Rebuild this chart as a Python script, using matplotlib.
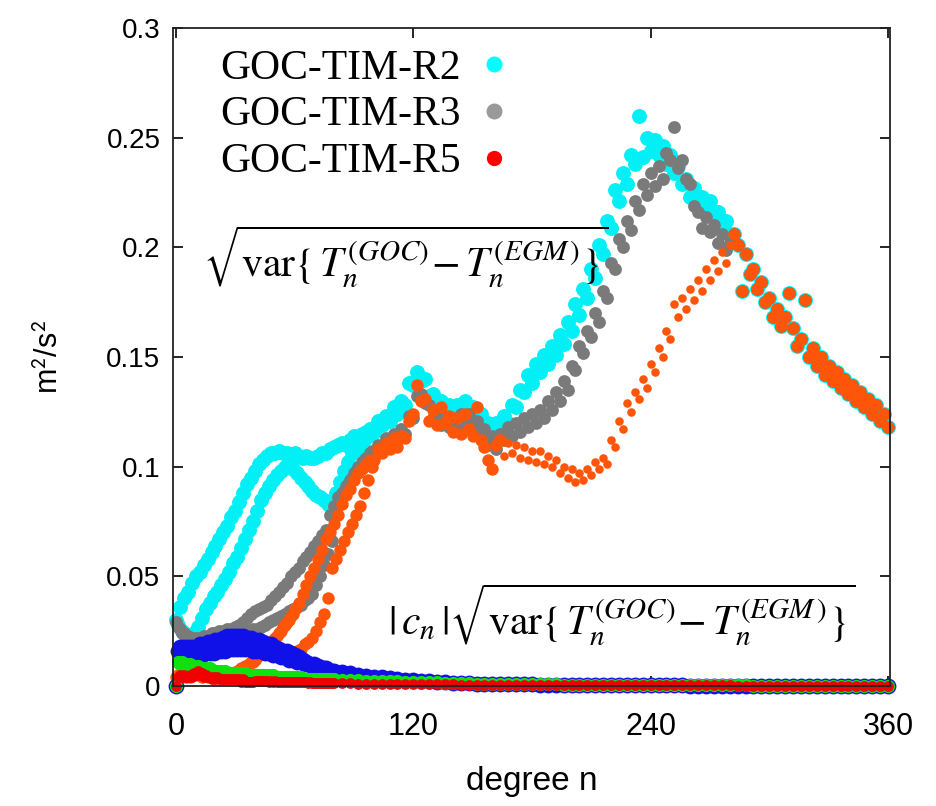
import matplotlib
matplotlib.use("Agg")
import matplotlib.pyplot as plt
from matplotlib.lines import Line2D

plt.rcParams['mathtext.fontset'] = 'stix'

# grados: 0..99 cada 1, 100..360 cada 2
deg = list(range(0, 100)) + list(range(100, 361, 2))

# tramo comun de los tres modelos (n >= 282)
tail = [0.206, 0.201, 0.180, 0.197, 0.188, 0.190, 0.181, 0.184, 0.175, 0.177,
        0.168, 0.172, 0.164, 0.168, 0.179, 0.163, 0.155, 0.158, 0.176, 0.150,
        0.154, 0.146, 0.150, 0.142, 0.146, 0.139, 0.143, 0.136, 0.140, 0.133,
        0.137, 0.130, 0.134, 0.127, 0.131, 0.124, 0.128, 0.121, 0.124, 0.118]

r2 = [0.030, 0.028, 0.036, 0.025, 0.040, 0.023, 0.043, 0.022, 0.047, 0.024,
      0.050, 0.027, 0.052, 0.031, 0.055, 0.035, 0.058, 0.038, 0.061, 0.041,
      0.064, 0.043, 0.067, 0.046, 0.070, 0.049, 0.073, 0.052, 0.077, 0.056,
      0.080, 0.059, 0.084, 0.063, 0.088, 0.067, 0.092, 0.071, 0.095, 0.075,
      0.098, 0.080, 0.101, 0.085, 0.103, 0.088, 0.105, 0.091, 0.106, 0.094,
      0.106, 0.096, 0.107, 0.098, 0.106, 0.100, 0.106, 0.100, 0.105, 0.099,
      0.106, 0.097, 0.105, 0.095, 0.104, 0.093, 0.105, 0.091, 0.104, 0.089,
      0.104, 0.087, 0.105, 0.086, 0.106, 0.085, 0.106, 0.083, 0.108, 0.084,
      0.109, 0.088, 0.110, 0.093, 0.111, 0.098, 0.110, 0.102, 0.112, 0.106,
      0.114, 0.108, 0.113, 0.110, 0.115, 0.112, 0.116, 0.114, 0.117, 0.116,
      # 100..280
      0.116, 0.121, 0.119, 0.123, 0.121, 0.127, 0.124, 0.130, 0.128, 0.138,
      0.137, 0.143, 0.139, 0.140, 0.132, 0.133, 0.126, 0.130, 0.125, 0.128,
      0.124, 0.128, 0.123, 0.130, 0.124, 0.127, 0.121, 0.124, 0.118, 0.120,
      0.115, 0.120, 0.116, 0.123, 0.120, 0.128, 0.127, 0.135, 0.134, 0.142,
      0.138, 0.147, 0.143, 0.151, 0.147, 0.155, 0.151, 0.160, 0.156, 0.166,
      0.162, 0.174, 0.169, 0.181, 0.177, 0.190, 0.186, 0.201, 0.197, 0.212,
      0.209, 0.226, 0.221, 0.234, 0.229, 0.242, 0.238, 0.260, 0.241, 0.250,
      0.244, 0.249, 0.242, 0.246, 0.238, 0.242, 0.234, 0.237, 0.229, 0.231,
      0.223, 0.227, 0.219, 0.223, 0.216, 0.221, 0.213, 0.216, 0.209, 0.212,
      0.206] + tail

r3 = [0.029, 0.027, 0.026, 0.024, 0.024, 0.022, 0.023, 0.021, 0.022, 0.021,
      0.022, 0.021, 0.022, 0.022, 0.023, 0.022, 0.023, 0.022, 0.024, 0.023,
      0.024, 0.023, 0.025, 0.023, 0.025, 0.024, 0.026, 0.024, 0.026, 0.024,
      0.027, 0.025, 0.028, 0.025, 0.029, 0.025, 0.031, 0.025, 0.033, 0.026,
      0.034, 0.026, 0.035, 0.027, 0.036, 0.028, 0.037, 0.029, 0.039, 0.030,
      0.041, 0.031, 0.043, 0.032, 0.045, 0.033, 0.047, 0.034, 0.050, 0.035,
      0.052, 0.036, 0.054, 0.037, 0.057, 0.039, 0.059, 0.040, 0.061, 0.042,
      0.064, 0.046, 0.066, 0.050, 0.069, 0.055, 0.071, 0.060, 0.078, 0.066,
      0.082, 0.080, 0.086, 0.085, 0.088, 0.089, 0.091, 0.092, 0.094, 0.095,
      0.097, 0.098, 0.100, 0.100, 0.102, 0.103, 0.104, 0.105, 0.106, 0.107,
      # 100..280
      0.106, 0.110, 0.108, 0.113, 0.110, 0.115, 0.112, 0.117, 0.115, 0.123,
      0.122, 0.132, 0.133, 0.129, 0.128, 0.122, 0.125, 0.119, 0.123, 0.118,
      0.122, 0.118, 0.124, 0.120, 0.124, 0.118, 0.121, 0.114, 0.117, 0.110,
      0.114, 0.108, 0.115, 0.112, 0.118, 0.114, 0.120, 0.116, 0.122, 0.118,
      0.124, 0.120, 0.126, 0.122, 0.130, 0.126, 0.134, 0.130, 0.139, 0.135,
      0.146, 0.144, 0.155, 0.152, 0.162, 0.159, 0.170, 0.166, 0.180, 0.177,
      0.193, 0.190, 0.204, 0.200, 0.212, 0.208, 0.221, 0.217, 0.229, 0.224,
      0.234, 0.228, 0.237, 0.231, 0.243, 0.240, 0.255, 0.236, 0.240, 0.231,
      0.229, 0.219, 0.216, 0.209, 0.214, 0.207, 0.210, 0.202, 0.206, 0.199,
      0.202] + tail

r5 = [0.004, 0.005, 0.004, 0.006, 0.005, 0.004, 0.005, 0.004, 0.005, 0.006,
      0.006, 0.005, 0.005, 0.004, 0.005, 0.005, 0.004, 0.005, 0.005, 0.004,
      0.005, 0.005, 0.004, 0.005, 0.005, 0.005, 0.005, 0.006, 0.006, 0.006,
      0.006, 0.007, 0.007, 0.008, 0.008, 0.009, 0.009, 0.010, 0.011, 0.011,
      0.012, 0.013, 0.014, 0.015, 0.016, 0.017, 0.018, 0.019, 0.020, 0.021,
      0.022, 0.023, 0.024, 0.025, 0.027, 0.028, 0.029, 0.030, 0.032, 0.033,
      0.035, 0.016, 0.038, 0.017, 0.042, 0.019, 0.046, 0.020, 0.050, 0.022,
      0.054, 0.025, 0.058, 0.029, 0.062, 0.033, 0.067, 0.040, 0.070, 0.054,
      0.074, 0.058, 0.078, 0.062, 0.083, 0.066, 0.087, 0.070, 0.090, 0.074,
      0.094, 0.078, 0.097, 0.082, 0.099, 0.088, 0.101, 0.094, 0.103, 0.100,
      # 100..280
      0.103, 0.108, 0.106, 0.111, 0.108, 0.113, 0.109, 0.114, 0.113, 0.121,
      0.124, 0.137, 0.130, 0.131, 0.121, 0.126, 0.119, 0.127, 0.120, 0.123,
      0.116, 0.122, 0.115, 0.124, 0.117, 0.114, 0.127, 0.112, 0.109, 0.103,
      0.099, 0.110, 0.112, 0.105, 0.111, 0.106, 0.110, 0.104, 0.109, 0.103,
      0.107, 0.102, 0.107, 0.101, 0.105, 0.100, 0.103, 0.097, 0.100, 0.095,
      0.099, 0.093, 0.097, 0.094, 0.099, 0.096, 0.102, 0.099, 0.104, 0.101,
      0.112, 0.109, 0.121, 0.117, 0.129, 0.125, 0.134, 0.131, 0.140, 0.136,
      0.147, 0.143, 0.154, 0.150, 0.162, 0.158, 0.174, 0.168, 0.177, 0.172,
      0.181, 0.176, 0.185, 0.180, 0.190, 0.185, 0.194, 0.189, 0.198, 0.193,
      0.201] + tail

# |c_n| * sqrt(var): grados 0..80 cada 1, 84..360 cada 4
deg_c = list(range(0, 81)) + list(range(84, 361, 4))

c2 = [0.000, 0.016, 0.018, 0.015, 0.018, 0.015, 0.018, 0.014, 0.018, 0.014,
      0.018, 0.014, 0.019, 0.014, 0.019, 0.015, 0.020, 0.015, 0.020, 0.015,
      0.021, 0.016, 0.021, 0.016, 0.022, 0.016, 0.023, 0.017, 0.023, 0.017,
      0.023, 0.017, 0.023, 0.017, 0.023, 0.017, 0.022, 0.017, 0.022, 0.016,
      0.021, 0.016, 0.021, 0.016, 0.020, 0.015, 0.019, 0.015, 0.019, 0.014,
      0.018, 0.014, 0.017, 0.013, 0.016, 0.013, 0.016, 0.012, 0.015, 0.012,
      0.014, 0.011, 0.013, 0.011, 0.012, 0.010, 0.011, 0.010, 0.010, 0.009,
      0.010, 0.009, 0.009, 0.008, 0.008, 0.008, 0.008, 0.007, 0.007, 0.007,
      0.007,
      0.0062, 0.0057, 0.0052, 0.0047, 0.0043, 0.0039, 0.0035, 0.0032, 0.0029, 0.0026,
      0.0023, 0.0021, 0.0019, 0.0017, 0.0015, 0.0013, 0.0012, 0.0011, 0.0010, 0.0009,
      0.0008, 0.0008, 0.0007, 0.0007, 0.0007, 0.0006, 0.0006, 0.0006, 0.0005, 0.0005,
      0.0005, 0.0005, 0.0004, 0.0004, 0.0004, 0.0004, 0.0004, 0.0003, 0.0003, 0.0003,
      0.0003, 0.0003, 0.0003, 0.0003, 0.0002, 0.0002, 0.0002, 0.0002, 0.0002, 0.0002,
      0.0002, 0.0002, 0.0002, 0.0001, 0.0001, 0.0001, 0.0001, 0.0001, 0.0001, 0.0001,
      0.0001, 0.0001, 0.0001, 0.0001, 0.0001, 0.0001, 0.0001, 0.0001, 0.0001, 0.0001]

c3 = [0.000, 0.011, 0.010, 0.011, 0.009, 0.010, 0.009, 0.010, 0.008, 0.009,
      0.008, 0.009, 0.008, 0.008, 0.007, 0.008, 0.007, 0.008, 0.007, 0.007,
      0.007, 0.007, 0.006, 0.007, 0.006, 0.007, 0.006, 0.006, 0.006, 0.006,
      0.006, 0.006, 0.005, 0.006, 0.005, 0.006, 0.005, 0.005, 0.005, 0.005,
      0.005, 0.005, 0.005, 0.005, 0.005, 0.005, 0.004, 0.005, 0.004, 0.005,
      0.004, 0.004, 0.004, 0.004, 0.004, 0.004, 0.004, 0.004, 0.004, 0.004,
      0.004, 0.004, 0.003, 0.004, 0.003, 0.003, 0.003, 0.003, 0.003, 0.003,
      0.003, 0.003, 0.003, 0.003, 0.003, 0.003, 0.003, 0.003, 0.003, 0.003,
      0.003,
      0.0028, 0.0027, 0.0026, 0.0025, 0.0024, 0.0023, 0.0022, 0.0021, 0.0020, 0.0019,
      0.0018, 0.0017, 0.0016, 0.0015, 0.0014, 0.0013, 0.0012, 0.0011, 0.0010, 0.0010,
      0.0009, 0.0009, 0.0008, 0.0008, 0.0008, 0.0007, 0.0007, 0.0007, 0.0006, 0.0006,
      0.0006, 0.0006, 0.0005, 0.0005, 0.0005, 0.0005, 0.0005, 0.0004, 0.0004, 0.0004,
      0.0004, 0.0004, 0.0004, 0.0003, 0.0003, 0.0003, 0.0003, 0.0003, 0.0003, 0.0003,
      0.0003, 0.0003, 0.0002, 0.0002, 0.0002, 0.0002, 0.0002, 0.0002, 0.0002, 0.0002,
      0.0002, 0.0002, 0.0002, 0.0002, 0.0002, 0.0002, 0.0002, 0.0002, 0.0002, 0.0002]

c5 = [0.000, 0.004, 0.005, 0.004, 0.005, 0.004, 0.004, 0.005, 0.004, 0.006,
      0.005, 0.007, 0.005, 0.006, 0.004, 0.005, 0.004, 0.004, 0.003, 0.004,
      0.003, 0.004, 0.003, 0.003, 0.003, 0.003, 0.003, 0.003, 0.003, 0.003,
      0.003, 0.003, 0.003, 0.002, 0.003, 0.002, 0.002, 0.002, 0.002, 0.002,
      0.0025, 0.0022, 0.0024, 0.0021, 0.0023, 0.0021, 0.0022, 0.0020, 0.0021, 0.0020,
      0.0021, 0.0019, 0.0020, 0.0019, 0.0019, 0.0018, 0.0019, 0.0018, 0.0018, 0.0017,
      0.0018, 0.0017, 0.0017, 0.0016, 0.0017, 0.0016, 0.0016, 0.0015, 0.0016, 0.0015,
      0.0015, 0.0014, 0.0015, 0.0014, 0.0014, 0.0013, 0.0014, 0.0013, 0.0013, 0.0012,
      0.0013,
      0.0012, 0.0012, 0.0011, 0.0011, 0.0010, 0.0010, 0.0009, 0.0009, 0.0009, 0.0008,
      0.0008, 0.0008, 0.0007, 0.0007, 0.0007, 0.0006, 0.0006, 0.0006, 0.0006, 0.0005,
      0.0005, 0.0005, 0.0005, 0.0005, 0.0005, 0.0005, 0.0005, 0.0005, 0.0005, 0.0005,
      0.0004, 0.0004, 0.0004, 0.0004, 0.0004, 0.0004, 0.0004, 0.0004, 0.0004, 0.0004,
      0.0003, 0.0003, 0.0003, 0.0003, 0.0003, 0.0003, 0.0003, 0.0003, 0.0003, 0.0003,
      0.0002, 0.0002, 0.0002, 0.0002, 0.0002, 0.0002, 0.0002, 0.0002, 0.0002, 0.0002,
      0.0002, 0.0002, 0.0002, 0.0002, 0.0002, 0.0002, 0.0002, 0.0002, 0.0002, 0.0002]

labels = ['GOC-TIM-R2', 'GOC-TIM-R3', 'GOC-TIM-R5']
x_ticks = [0, 120, 240, 360]
y_ticks = [0, 0.05, 0.1, 0.15, 0.2, 0.25, 0.3]
y_ticklabels = ['0', '0.05', '0.1', '0.15', '0.2', '0.25', '0.3']

cian = '#00f0f5'
gris = '#7a7a7a'
naranja = '#ff5508'

fig = plt.figure(figsize=(9.37, 8.06), dpi=100)
ax = fig.add_axes([0.1846, 0.1489, 0.7652, 0.8164])

ax.scatter(deg, r2, s=115, color=cian, linewidths=0, clip_on=False, zorder=2)
ax.scatter(deg, r3, s=85, color=gris, linewidths=0, clip_on=False, zorder=3)

# R5: puntos chicos donde se separa de los otros
grande = [(n, v) for n, v in zip(deg, r5) if n < 166 or n >= 282]
chico = [(n, v) for n, v in zip(deg, r5) if 166 <= n < 282]
ax.scatter([p[0] for p in grande], [p[1] for p in grande], s=80, color=naranja,
           linewidths=0, clip_on=False, zorder=4)
ax.scatter([p[0] for p in chico], [p[1] for p in chico], s=38, color=naranja,
           linewidths=0, clip_on=False, zorder=4)

ax.scatter(deg_c, c2, s=130, color='#1010e8', linewidths=0, clip_on=False, zorder=5)
ax.scatter(deg_c, c3, s=90, color='#10e010', linewidths=0, clip_on=False, zorder=6)
ax.scatter(deg_c, c5, s=60, color='#f00000', linewidths=0, clip_on=False, zorder=7)

ax.set_xlim(-1.5, 361)
ax.set_ylim(0, 0.3)
ax.set_xticks(x_ticks)
ax.set_yticks(y_ticks)
ax.set_yticklabels(y_ticklabels, family='Liberation Sans', fontsize=20)
ax.set_xticklabels([str(t) for t in x_ticks], family='Liberation Sans', fontsize=22)
ax.tick_params(direction='in', length=7, width=1.2, top=True, right=True)
ax.tick_params(axis='y', pad=9)
ax.tick_params(axis='x', pad=19)
for sp in ax.spines.values():
    sp.set_linewidth(1.3)
    sp.set_color('#222222')
    sp.set_zorder(10)

ax.set_xlabel('degree n', family='Liberation Sans', fontsize=24, labelpad=17)
ax.set_ylabel(r'm$^{\mathsf{2}}$/s$^{\mathsf{2}}$', family='Liberation Sans',
              fontsize=22, labelpad=30)

formula = r'\sqrt{\mathrm{var}\{\,T_n^{(GOC)}\!-T_n^{(EGM\,)}\}}'
ax.text(0.042, 0.622, '$' + formula + '$', transform=ax.transAxes,
        fontsize=30, va='baseline', ha='left', zorder=11)
ax.text(0.30, 0.078, r'$|\,c_n\,|' + formula + '$', transform=ax.transAxes,
        fontsize=30, va='baseline', ha='left', zorder=11)

handles = [Line2D([], [], ls='none', marker='o', markersize=11.5, color='#00ffff', mew=0),
           Line2D([], [], ls='none', marker='o', markersize=11.5, color='#999999', mew=0),
           Line2D([], [], ls='none', marker='o', markersize=11, color='#ff0000', mew=0)]
ax.legend(handles, labels, loc='upper left', bbox_to_anchor=(0.066, 0.968),
          frameon=False, markerfirst=False, handlelength=1.0, handletextpad=0.3,
          labelspacing=0.2, borderpad=0, borderaxespad=0,
          prop={'family': 'Liberation Serif', 'size': 30})

fig.savefig('out.png', dpi=100)
